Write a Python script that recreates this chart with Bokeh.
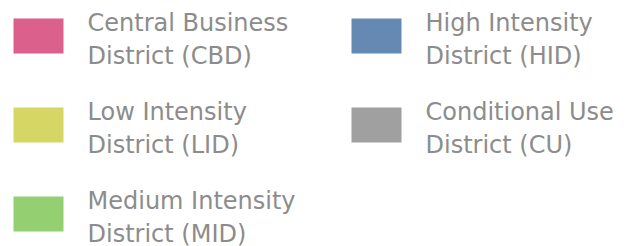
from bokeh.plotting import figure
from bokeh.models import Range1d, ColumnDataSource
from bokeh.core.properties import value
from bokeh.embed import file_html
from bokeh.resources import INLINE

# Legend entries (column-major: left column then right column)
labels_line1 = ["Central Business", "Low Intensity", "Medium Intensity", "High Intensity", "Conditional Use"]
labels_line2 = ["District (CBD)", "District (LID)", "District (MID)", "District (HID)", "District (CU)"]
colors = ["#DB608C", "#D6D664", "#94CF72", "#6589B2", "#A0A0A0"]
columns = [0, 0, 0, 1, 1]
rows = [0, 1, 2, 0, 1]

W, H = 635, 246

col_x = [13, 351]
text_dx = 74
row_y0, row_dy = 18, 89
sw_w, sw_h = 50, 35

left, right, top, bottom, tx, b1, b2 = [], [], [], [], [], [], []
for c, r in zip(columns, rows):
    x = col_x[c]
    y = row_y0 + row_dy * r
    left.append(x)
    right.append(x + sw_w)
    top.append(y)
    bottom.append(y + sw_h)
    tx.append(x + text_dx)
    b1.append(y + 4)
    b2.append(y + 37)

src = ColumnDataSource(dict(left=left, right=right, top=top, bottom=bottom,
                            color=colors, tx=tx, b1=b1, b2=b2,
                            l1=labels_line1, l2=labels_line2))

p = figure(width=W, height=H, output_backend="svg", toolbar_location=None,
           x_range=Range1d(0, W), y_range=Range1d(H, 0), min_border=0)
p.axis.visible = False
p.grid.visible = False
p.outline_line_color = None
p.background_fill_color = "white"
p.border_fill_color = "white"

p.quad(left="left", right="right", top="top", bottom="bottom", source=src,
       fill_color="color", line_color=None)

for col in ("l1", "l2"):
    p.text(x="tx", y="b1" if col == "l1" else "b2", text=col, source=src,
           text_font=value("DejaVu Sans"), text_font_size="24px",
           text_color="#8C8C8C", text_baseline="alphabetic", text_align="left")

open("out.html", "w").write(file_html(p, INLINE))
